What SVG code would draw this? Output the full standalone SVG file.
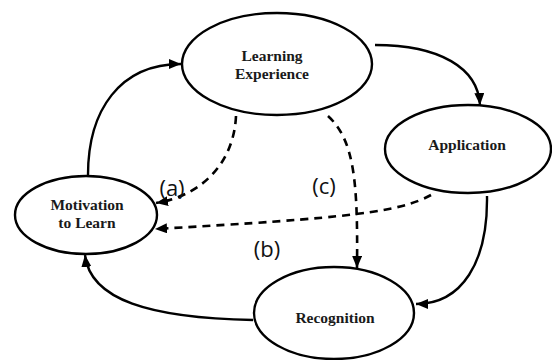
<svg xmlns="http://www.w3.org/2000/svg" width="552" height="360" viewBox="0 0 552 360">
<defs>
<style>
.node ellipse{fill:#fff;stroke:#000;stroke-width:2.4}
.node text{font-family:"Liberation Serif","Times New Roman",serif;font-weight:bold;font-size:15.5px;fill:#1a1a1a;text-anchor:middle}
.conn path{fill:none;stroke:#000;stroke-width:2.4}
.conn .dash{stroke-dasharray:8 6;stroke-width:2.6}
.lbl{font-family:"Open Sans","Noto Sans",sans-serif;font-size:22px;fill:#111;text-anchor:middle}
</style>
<marker id="ah" viewBox="0 0 12 10" refX="12" refY="5" markerWidth="12" markerHeight="10" markerUnits="userSpaceOnUse" orient="auto">
<path d="M0,0 L12,5 L0,10 Z" fill="#000"/>
</marker>
</defs>
<rect width="552" height="360" fill="#fff"/>
<g id="connectors" class="conn">
<path d="M88,175 C88,110 120,64 181,64" marker-end="url(#ah)"/>
<path d="M375,45 C440,45 478,68 480,105" marker-end="url(#ah)"/>
<path d="M487,196 C488,262 462,304 416,304" marker-end="url(#ah)"/>
<path d="M253,320 C150,318 90,300 85,255" marker-end="url(#ah)"/>
<path class="dash" d="M236,116 C234,160 205,195 156,203" marker-end="url(#ah)"/>
<path class="dash" d="M328,116 C354,140 358,180 357,268" marker-end="url(#ah)"/>
<path class="dash" d="M431,195 C400,212 350,218 155,229" marker-end="url(#ah)"/>
</g>
<g id="learning-experience" class="node">
<ellipse cx="277" cy="64" rx="95" ry="51"/>
<text x="272" y="61">Learning</text>
<text x="272" y="79">Experience</text>
</g>
<g id="application" class="node">
<ellipse cx="468" cy="149" rx="83" ry="44"/>
<text x="467" y="150">Application</text>
</g>
<g id="motivation" class="node">
<ellipse cx="86" cy="215" rx="71" ry="39"/>
<text x="87" y="210">Motivation</text>
<text x="87" y="228">to Learn</text>
</g>
<g id="recognition" class="node">
<ellipse cx="334" cy="313" rx="80" ry="46"/>
<text x="335" y="323">Recognition</text>
</g>
<g id="labels">
<text class="lbl" x="172" y="196">(a)</text>
<text class="lbl" x="324" y="194">(c)</text>
<text class="lbl" x="267" y="257">(b)</text>
</g>
</svg>
